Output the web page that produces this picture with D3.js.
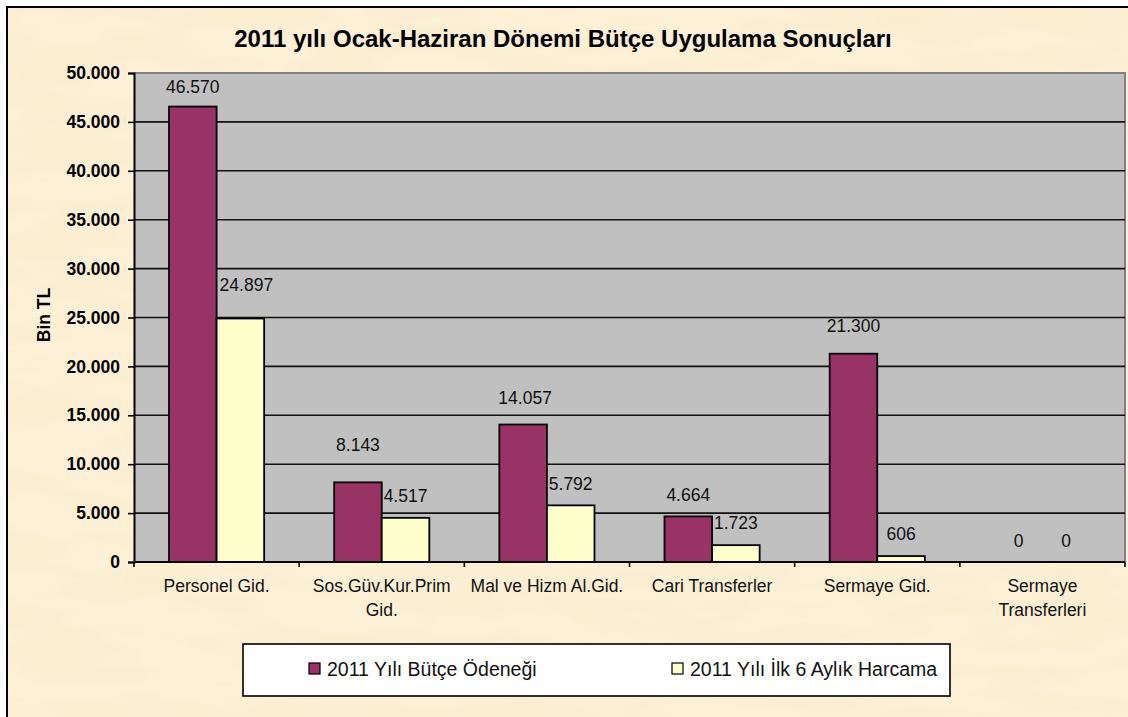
<!DOCTYPE html>
<html>
<head>
<meta charset="utf-8">
<script src="https://cdn.jsdelivr.net/npm/d3@7"></script>
<style>
  body { margin: 0; background: #fff; }
  svg { display: block; font-family: Arial, "Liberation Sans", sans-serif; }
</style>
</head>
<body>
<div id="chart"></div>
<script>
// --- data ---
const chartTitle = '2011 yılı Ocak-Haziran Dönemi Bütçe Uygulama Sonuçları';
const categories = ['Personel Gid.', 'Sos.Güv.Kur.Prim Gid.', 'Mal ve Hizm Al.Gid.', 'Cari Transferler', 'Sermaye Gid.', 'Sermaye Transferleri'];
// tick labels as drawn (wrapped lines)
const categoryLines = [['Personel Gid.'], ['Sos.Güv.Kur.Prim', 'Gid.'], ['Mal ve Hizm Al.Gid.'], ['Cari Transferler'], ['Sermaye Gid.'], ['Sermaye', 'Transferleri']];
const seriesNames = ['2011 Yılı Bütçe Ödeneği', '2011 Yılı İlk 6 Aylık Harcama'];
const butceOdenegi = [46570, 8143, 14057, 4664, 21300, 0];
const ilk6AyHarcama = [24897, 4517, 5792, 1723, 606, 0];
const yTicks = [0, 5000, 10000, 15000, 20000, 25000, 30000, 35000, 40000, 45000, 50000];
const yTitle = 'Bin TL';

// label lift above bar top (px), the original labels were nudged by hand
const labelLift = [[20, 37, 27, 21, 28, 21], [34, 22, 21, 22, 22, 21]];
const labelShift = [[0, 0, 2, 0, 0, 0], [6, 0, 0, 0, 0, 0]];

const W = 1128, H = 717;
const plot = { left: 134, right: 1125, top: 73, bottom: 562 };
const colors = ['#993366', '#FFFFCC'];
const fmt = v => d3.format(',')(v).replace(/,/g, '.');

const svg = d3.select('#chart').append('svg')
  .attr('width', W)
  .attr('height', H);

// paper texture
const defs = svg.append('defs');
const paper = defs.append('filter').attr('id', 'paper')
  .attr('x', 0).attr('y', 0).attr('width', '100%').attr('height', '100%');
paper.append('feTurbulence')
  .attr('type', 'fractalNoise')
  .attr('baseFrequency', '0.008 0.03')
  .attr('numOctaves', 3)
  .attr('seed', 7);
paper.append('feColorMatrix')
  .attr('type', 'matrix')
  .attr('values', '0 0 0 0 0.93  0 0 0 0 0.80  0 0 0 0 0.52  0.7 0 0 0 -0.26');

svg.append('rect')
  .attr('x', 7).attr('y', 7)
  .attr('width', W + 20).attr('height', H + 20)
  .attr('fill', '#FCF0D6')
  .attr('stroke', '#000')
  .attr('stroke-width', 2);
svg.append('rect')
  .attr('x', 8).attr('y', 8)
  .attr('width', W).attr('height', H)
  .attr('filter', 'url(#paper)');

// title
svg.append('text')
  .attr('x', 563).attr('y', 47)
  .attr('text-anchor', 'middle')
  .style('font-size', '24px')
  .style('font-weight', 'bold')
  .text(chartTitle);

// scales
const x = d3.scaleBand()
  .domain(categories)
  .range([plot.left, plot.right])
  .paddingInner(0.424)
  .paddingOuter(0.212);
const xs = d3.scaleBand()
  .domain([0, 1])
  .range([0, x.bandwidth()]);
const y = d3.scaleLinear()
  .domain([0, 50000])
  .range([plot.bottom, plot.top]);

// plot area
svg.append('rect')
  .attr('x', plot.left).attr('y', plot.top)
  .attr('width', plot.right - plot.left)
  .attr('height', plot.bottom - plot.top)
  .attr('fill', '#C0C0C0');
svg.append('path')
  .attr('d', `M${plot.left},${plot.top}H${plot.right}V${plot.bottom}`)
  .attr('fill', 'none')
  .attr('stroke', '#808080')
  .attr('stroke-width', 2);

// gridlines
svg.append('g')
  .selectAll('line')
  .data(yTicks.filter(d => d > 0 && d < 50000))
  .enter()
  .append('line')
  .attr('x1', plot.left).attr('x2', plot.right)
  .attr('y1', d => y(d)).attr('y2', d => y(d))
  .attr('stroke', '#111')
  .attr('stroke-width', 1.6);

// bars
const series = [butceOdenegi, ilk6AyHarcama];
const groups = svg.append('g')
  .selectAll('g')
  .data(series)
  .enter()
  .append('g')
  .attr('fill', (d, i) => colors[i]);
groups.selectAll('rect')
  .data((vals, si) => vals.map((v, ci) => ({ v, si, ci })))
  .enter()
  .append('rect')
  .filter(d => d.v > 0)
  .attr('x', d => x(categories[d.ci]) + xs(d.si))
  .attr('y', d => y(d.v))
  .attr('width', xs.bandwidth())
  .attr('height', d => y(0) - y(d.v))
  .attr('stroke', '#000')
  .attr('stroke-width', 1.8);

// data labels
svg.append('g')
  .selectAll('g')
  .data(series)
  .enter()
  .append('g')
  .selectAll('text')
  .data((vals, si) => vals.map((v, ci) => ({ v, si, ci })))
  .enter()
  .append('text')
  .attr('x', d => x(categories[d.ci]) + xs(d.si) + xs.bandwidth() / 2 + labelShift[d.si][d.ci])
  .attr('y', d => y(d.v) - labelLift[d.si][d.ci] + 6)
  .attr('text-anchor', 'middle')
  .style('font-size', '17.5px')
  .attr('fill', '#111')
  .text(d => fmt(d.v));

// y axis
const yAxis = svg.append('g')
  .attr('transform', `translate(${plot.left},0)`)
  .call(d3.axisLeft(y).tickValues(yTicks).tickSize(6).tickPadding(8).tickFormat(fmt));
yAxis.select('.domain').attr('stroke', '#000').attr('stroke-width', 2);
yAxis.selectAll('.tick line').attr('stroke', '#000').attr('stroke-width', 1.6);
yAxis.selectAll('text')
  .attr('fill', '#000')
  .style('font-size', '17.5px')
  .style('font-weight', 'bold')
  .style('font-family', 'Arial, "Liberation Sans", sans-serif');

// x axis
const xAxis = svg.append('g')
  .attr('transform', `translate(0,${plot.bottom})`);
xAxis.append('line')
  .attr('x1', plot.left).attr('x2', plot.right)
  .attr('stroke', '#000').attr('stroke-width', 2);
xAxis.selectAll('line.tk')
  .data(d3.range(categories.length + 1))
  .enter()
  .append('line')
  .attr('class', 'tk')
  .attr('x1', i => plot.left + i * x.step())
  .attr('x2', i => plot.left + i * x.step())
  .attr('y1', 0).attr('y2', 5)
  .attr('stroke', '#000').attr('stroke-width', 1.6);
const xLabels = xAxis.selectAll('text')
  .data(categories)
  .enter()
  .append('text')
  .attr('x', d => x(d) + x.bandwidth() / 2)
  .attr('text-anchor', 'middle')
  .style('font-size', '17.5px')
  .attr('fill', '#111');
xLabels.selectAll('tspan')
  .data((d, i) => categoryLines[i])
  .enter()
  .append('tspan')
  .attr('x', function () { return this.parentNode.getAttribute('x'); })
  .attr('y', (d, i) => 30 + i * 23.5)
  .text(d => d);

// y axis title
svg.append('text')
  .attr('transform', 'translate(50,315) rotate(-90)')
  .attr('text-anchor', 'middle')
  .style('font-size', '17.5px')
  .style('font-weight', 'bold')
  .text(yTitle);

// legend
const legend = svg.append('g');
legend.append('rect')
  .attr('x', 243).attr('y', 644)
  .attr('width', 707).attr('height', 52)
  .attr('fill', '#fff')
  .attr('stroke', '#000')
  .attr('stroke-width', 1.6);
const legendX = [309, 672];
const items = legend.selectAll('g')
  .data(seriesNames)
  .enter()
  .append('g')
  .attr('transform', (d, i) => `translate(${legendX[i]},663)`);
items.append('rect')
  .attr('width', 11).attr('height', 11)
  .attr('fill', (d, i) => colors[i])
  .attr('stroke', '#000')
  .attr('stroke-width', 1.2);
items.append('text')
  .attr('x', 18).attr('y', 13)
  .style('font-size', '19.5px')
  .attr('fill', '#111')
  .text(d => d);
</script>
</body>
</html>
